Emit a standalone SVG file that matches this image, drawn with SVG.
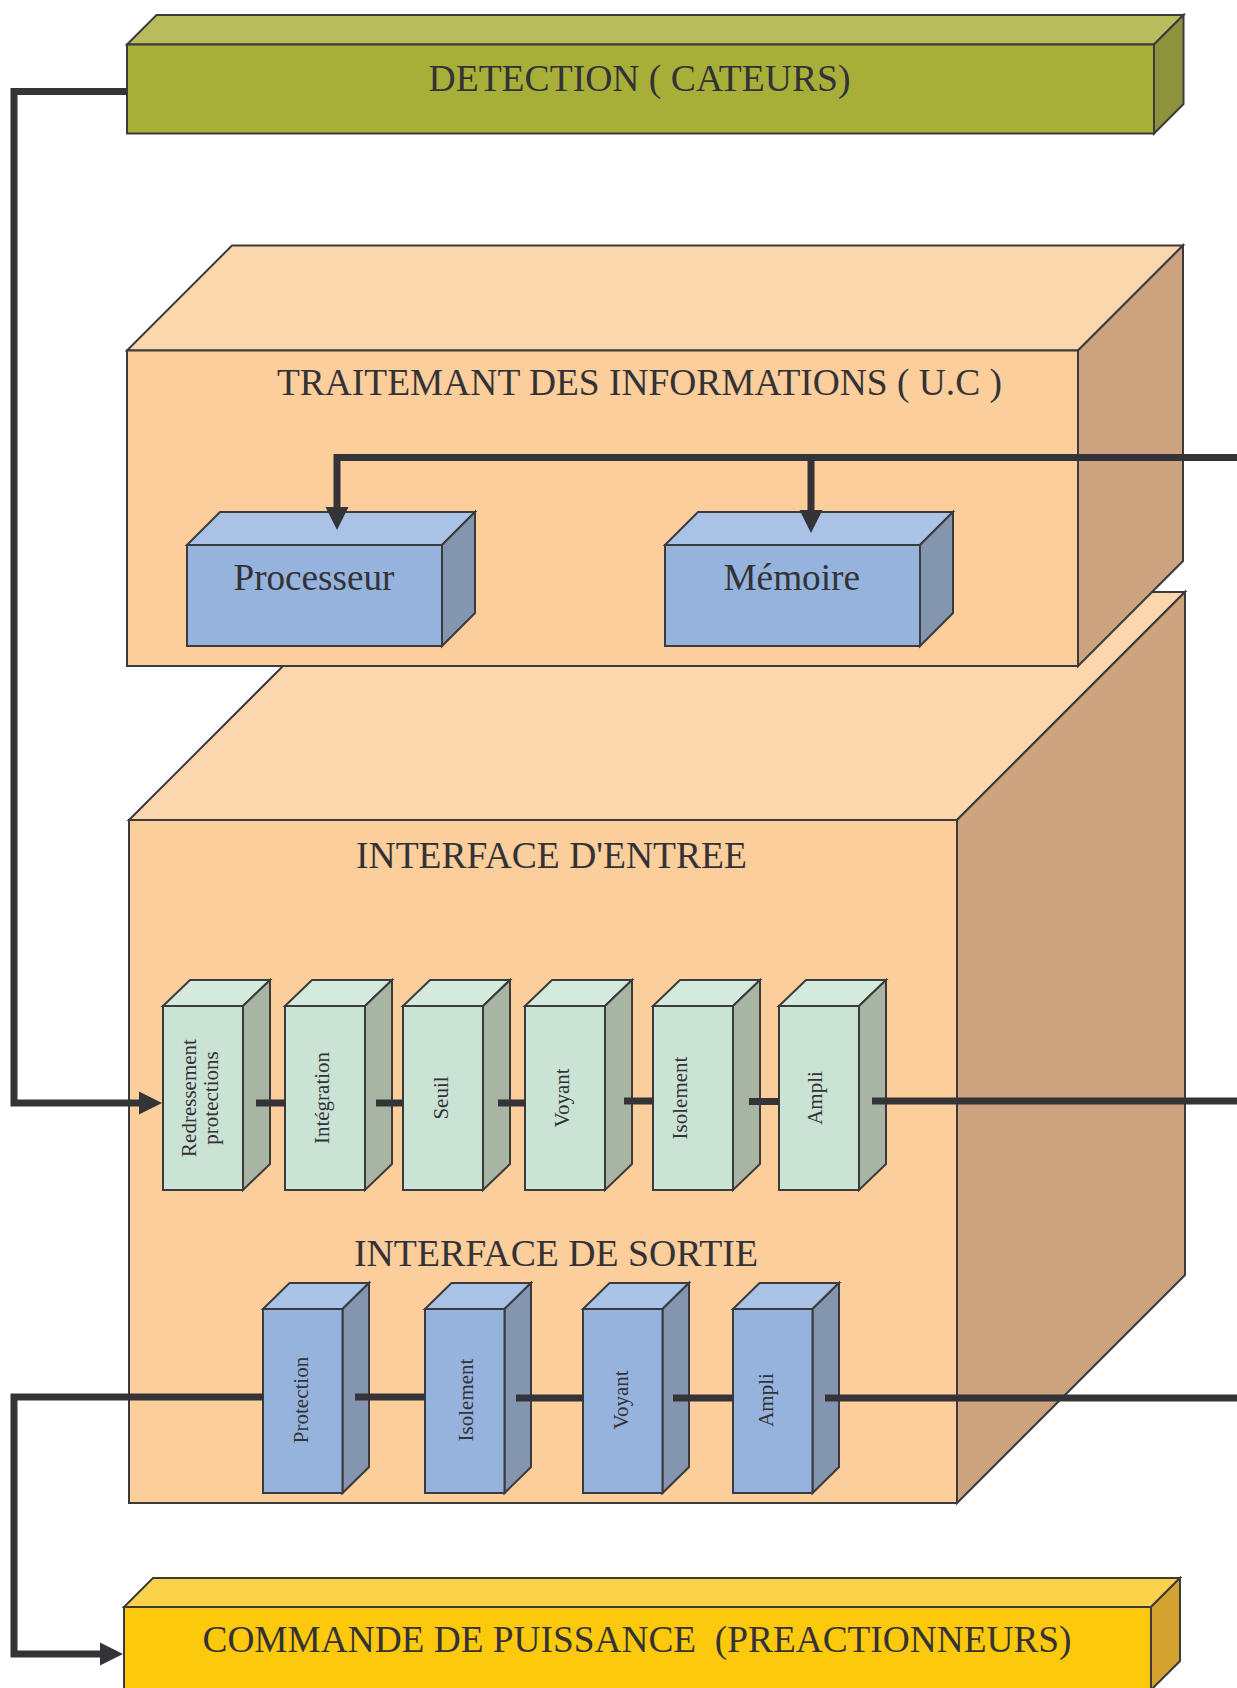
<svg xmlns="http://www.w3.org/2000/svg" width="1237" height="1688" viewBox="0 0 1237 1688">
  <style>
    .edge { stroke: #3b3b3d; stroke-width: 2; stroke-linejoin: miter; }
    .title { font-family: "Liberation Serif", "Times New Roman", serif; font-size: 37px; fill: #333236; }
    .small { font-family: "Liberation Serif", "Times New Roman", serif; font-size: 21px; fill: #333236; text-anchor: middle; }
    .olive-f { fill: #A8AF38; } .olive-t { fill: #B8BC5C; } .olive-s { fill: #8F923D; }
    .peach-f { fill: #FCCE9C; } .peach-t { fill: #FCD6AD; } .peach-s { fill: #CDA47F; }
    .blue-f { fill: #95B3DC; } .blue-t { fill: #A9C2E6; } .blue-s { fill: #8496AF; }
    .mint-f { fill: #CAE3D4; } .mint-t { fill: #D4EADD; } .mint-s { fill: #A8B5A4; }
    .gold-f { fill: #FDC90C; } .gold-t { fill: #FDD24B; } .gold-s { fill: #D4A22F; }
    .wire { fill: none; stroke: #343338; stroke-width: 7; stroke-linejoin: miter; stroke-linecap: butt; }
  </style>
  <defs>
    <marker id="head" markerUnits="userSpaceOnUse" markerWidth="24" markerHeight="24" viewBox="0 0 24 24" refX="0" refY="12" orient="auto">
      <path d="M0,0.5 L23,12 L0,23.5 Z" fill="#343338"/>
    </marker>
  </defs>
  <rect width="1237" height="1688" fill="#ffffff"/>

  <!-- Sensors block -->
  <g id="detection">
    <polygon class="olive-t edge" points="127,44.5 156.5,15 1183.5,15 1154,44.5"/>
    <polygon class="olive-s edge" points="1154,44.5 1183.5,15 1183.5,104 1154,133.5"/>
    <rect class="olive-f edge" x="127" y="44.5" width="1027" height="89"/>
    <text class="title" x="428.5" y="90.5" textLength="422" lengthAdjust="spacingAndGlyphs">DETECTION ( CATEURS)</text>
  </g>

  <!-- Input / output interface cabinet (drawn behind the CPU cabinet) -->
  <g id="interface">
    <polygon class="peach-t edge" points="129,820 357,592 1185,592 957,820"/>
    <polygon class="peach-s edge" points="957,820 1185,592 1185,1275 957,1503"/>
    <rect class="peach-f edge" x="129" y="820" width="828" height="683"/>
    <text class="title" x="356" y="867.5" textLength="391" lengthAdjust="spacingAndGlyphs">INTERFACE D'ENTREE</text>
    <text class="title" x="354" y="1266" textLength="404" lengthAdjust="spacingAndGlyphs">INTERFACE DE SORTIE</text>
  </g>

  <!-- Processing unit cabinet -->
  <g id="traitement">
    <polygon class="peach-t edge" points="127,350.5 232,245.5 1183,245.5 1078,350.5"/>
    <polygon class="peach-s edge" points="1078,350.5 1183,245.5 1183,561 1078,666"/>
    <rect class="peach-f edge" x="127" y="350.5" width="951" height="315.5"/>
    <text class="title" x="277" y="395" textLength="725" lengthAdjust="spacingAndGlyphs">TRAITEMANT DES INFORMATIONS ( U.C )</text>
  </g>

  <g id="processeur">
    <polygon class="blue-t edge" points="187,545 220,512 475,512 442,545"/>
    <polygon class="blue-s edge" points="442,545 475,512 475,613 442,646"/>
    <rect class="blue-f edge" x="187" y="545" width="255" height="101"/>
    <text class="title" x="233.5" y="590" textLength="161" lengthAdjust="spacingAndGlyphs">Processeur</text>
  </g>

  <g id="memoire">
    <polygon class="blue-t edge" points="665,545 698,512 953,512 920,545"/>
    <polygon class="blue-s edge" points="920,545 953,512 953,613 920,646"/>
    <rect class="blue-f edge" x="665" y="545" width="255" height="101"/>
    <text class="title" x="723.5" y="590" textLength="136.5" lengthAdjust="spacingAndGlyphs">Mémoire</text>
  </g>

  <!-- Input interface stages -->
  <g id="e-redressement">
    <polygon class="mint-t edge" points="163,1006 190,980 270,980 243,1006"/>
    <polygon class="mint-s edge" points="243,1006 270,980 270,1164 243,1190"/>
    <rect class="mint-f edge" x="163" y="1006" width="80" height="184"/>
    <text class="small" transform="translate(196,1098) rotate(-90)">Redressement</text>
    <text class="small" transform="translate(218,1098) rotate(-90)">protections</text>
  </g>
  <g id="e-integration">
    <polygon class="mint-t edge" points="285,1006 312,980 392,980 365,1006"/>
    <polygon class="mint-s edge" points="365,1006 392,980 392,1164 365,1190"/>
    <rect class="mint-f edge" x="285" y="1006" width="80" height="184"/>
    <text class="small" transform="translate(329,1098) rotate(-90)">Intégration</text>
  </g>
  <g id="e-seuil">
    <polygon class="mint-t edge" points="403,1006 430,980 510,980 483,1006"/>
    <polygon class="mint-s edge" points="483,1006 510,980 510,1164 483,1190"/>
    <rect class="mint-f edge" x="403" y="1006" width="80" height="184"/>
    <text class="small" transform="translate(448,1098) rotate(-90)">Seuil</text>
  </g>
  <g id="e-voyant">
    <polygon class="mint-t edge" points="525,1006 552,980 632,980 605,1006"/>
    <polygon class="mint-s edge" points="605,1006 632,980 632,1164 605,1190"/>
    <rect class="mint-f edge" x="525" y="1006" width="80" height="184"/>
    <text class="small" transform="translate(569,1098) rotate(-90)">Voyant</text>
  </g>
  <g id="e-isolement">
    <polygon class="mint-t edge" points="653,1006 680,980 760,980 733,1006"/>
    <polygon class="mint-s edge" points="733,1006 760,980 760,1164 733,1190"/>
    <rect class="mint-f edge" x="653" y="1006" width="80" height="184"/>
    <text class="small" transform="translate(687,1098) rotate(-90)">Isolement</text>
  </g>
  <g id="e-ampli">
    <polygon class="mint-t edge" points="779,1006 806,980 886,980 859,1006"/>
    <polygon class="mint-s edge" points="859,1006 886,980 886,1164 859,1190"/>
    <rect class="mint-f edge" x="779" y="1006" width="80" height="184"/>
    <text class="small" transform="translate(822,1098) rotate(-90)">Ampli</text>
  </g>

  <!-- Output interface stages -->
  <g id="s-protection">
    <polygon class="blue-t edge" points="263,1309 289.5,1283 369,1283 342.5,1309"/>
    <polygon class="blue-s edge" points="342.5,1309 369,1283 369,1467 342.5,1493"/>
    <rect class="blue-f edge" x="263" y="1309" width="79.5" height="184"/>
    <text class="small" transform="translate(308,1400) rotate(-90)">Protection</text>
  </g>
  <g id="s-isolement">
    <polygon class="blue-t edge" points="425,1309 451.5,1283 531,1283 504.5,1309"/>
    <polygon class="blue-s edge" points="504.5,1309 531,1283 531,1467 504.5,1493"/>
    <rect class="blue-f edge" x="425" y="1309" width="79.5" height="184"/>
    <text class="small" transform="translate(473,1400) rotate(-90)">Isolement</text>
  </g>
  <g id="s-voyant">
    <polygon class="blue-t edge" points="583,1309 609.5,1283 689,1283 662.5,1309"/>
    <polygon class="blue-s edge" points="662.5,1309 689,1283 689,1467 662.5,1493"/>
    <rect class="blue-f edge" x="583" y="1309" width="79.5" height="184"/>
    <text class="small" transform="translate(628,1400) rotate(-90)">Voyant</text>
  </g>
  <g id="s-ampli">
    <polygon class="blue-t edge" points="733,1309 759.5,1283 839,1283 812.5,1309"/>
    <polygon class="blue-s edge" points="812.5,1309 839,1283 839,1467 812.5,1493"/>
    <rect class="blue-f edge" x="733" y="1309" width="79.5" height="184"/>
    <text class="small" transform="translate(772.5,1400) rotate(-90)">Ampli</text>
  </g>

  <!-- Power control block -->
  <g id="commande">
    <polygon class="gold-t edge" points="124,1607 153,1578 1180,1578 1151,1607"/>
    <polygon class="gold-s edge" points="1151,1607 1180,1578 1180,1661 1151,1690"/>
    <rect class="gold-f edge" x="124" y="1607" width="1027" height="83"/>
    <text class="title" x="202.5" y="1652" textLength="869" lengthAdjust="spacingAndGlyphs" xml:space="preserve">COMMANDE DE PUISSANCE  (PREACTIONNEURS)</text>
  </g>

  <!-- Signal wiring -->
  <g id="connectors">
    <path class="wire" d="M127,91.5 H14 V1103 H139" marker-end="url(#head)"/>
    <path class="wire" d="M1237,457.5 H337 V507" marker-end="url(#head)"/>
    <path class="wire" d="M811,457.5 V510" marker-end="url(#head)"/>

    <path class="wire" d="M256,1103 H285"/>
    <path class="wire" d="M376,1103 H403"/>
    <path class="wire" d="M498,1103 H525"/>
    <path class="wire" d="M624,1101 H653"/>
    <path class="wire" d="M749,1101.5 H779"/>
    <path class="wire" d="M872,1101 H1237"/>

    <path class="wire" d="M263,1397 H14 V1654 H100" marker-end="url(#head)"/>
    <path class="wire" d="M355,1397 H425"/>
    <path class="wire" d="M516,1398 H583"/>
    <path class="wire" d="M673,1398 H733"/>
    <path class="wire" d="M825,1398 H1237"/>
  </g>
</svg>
